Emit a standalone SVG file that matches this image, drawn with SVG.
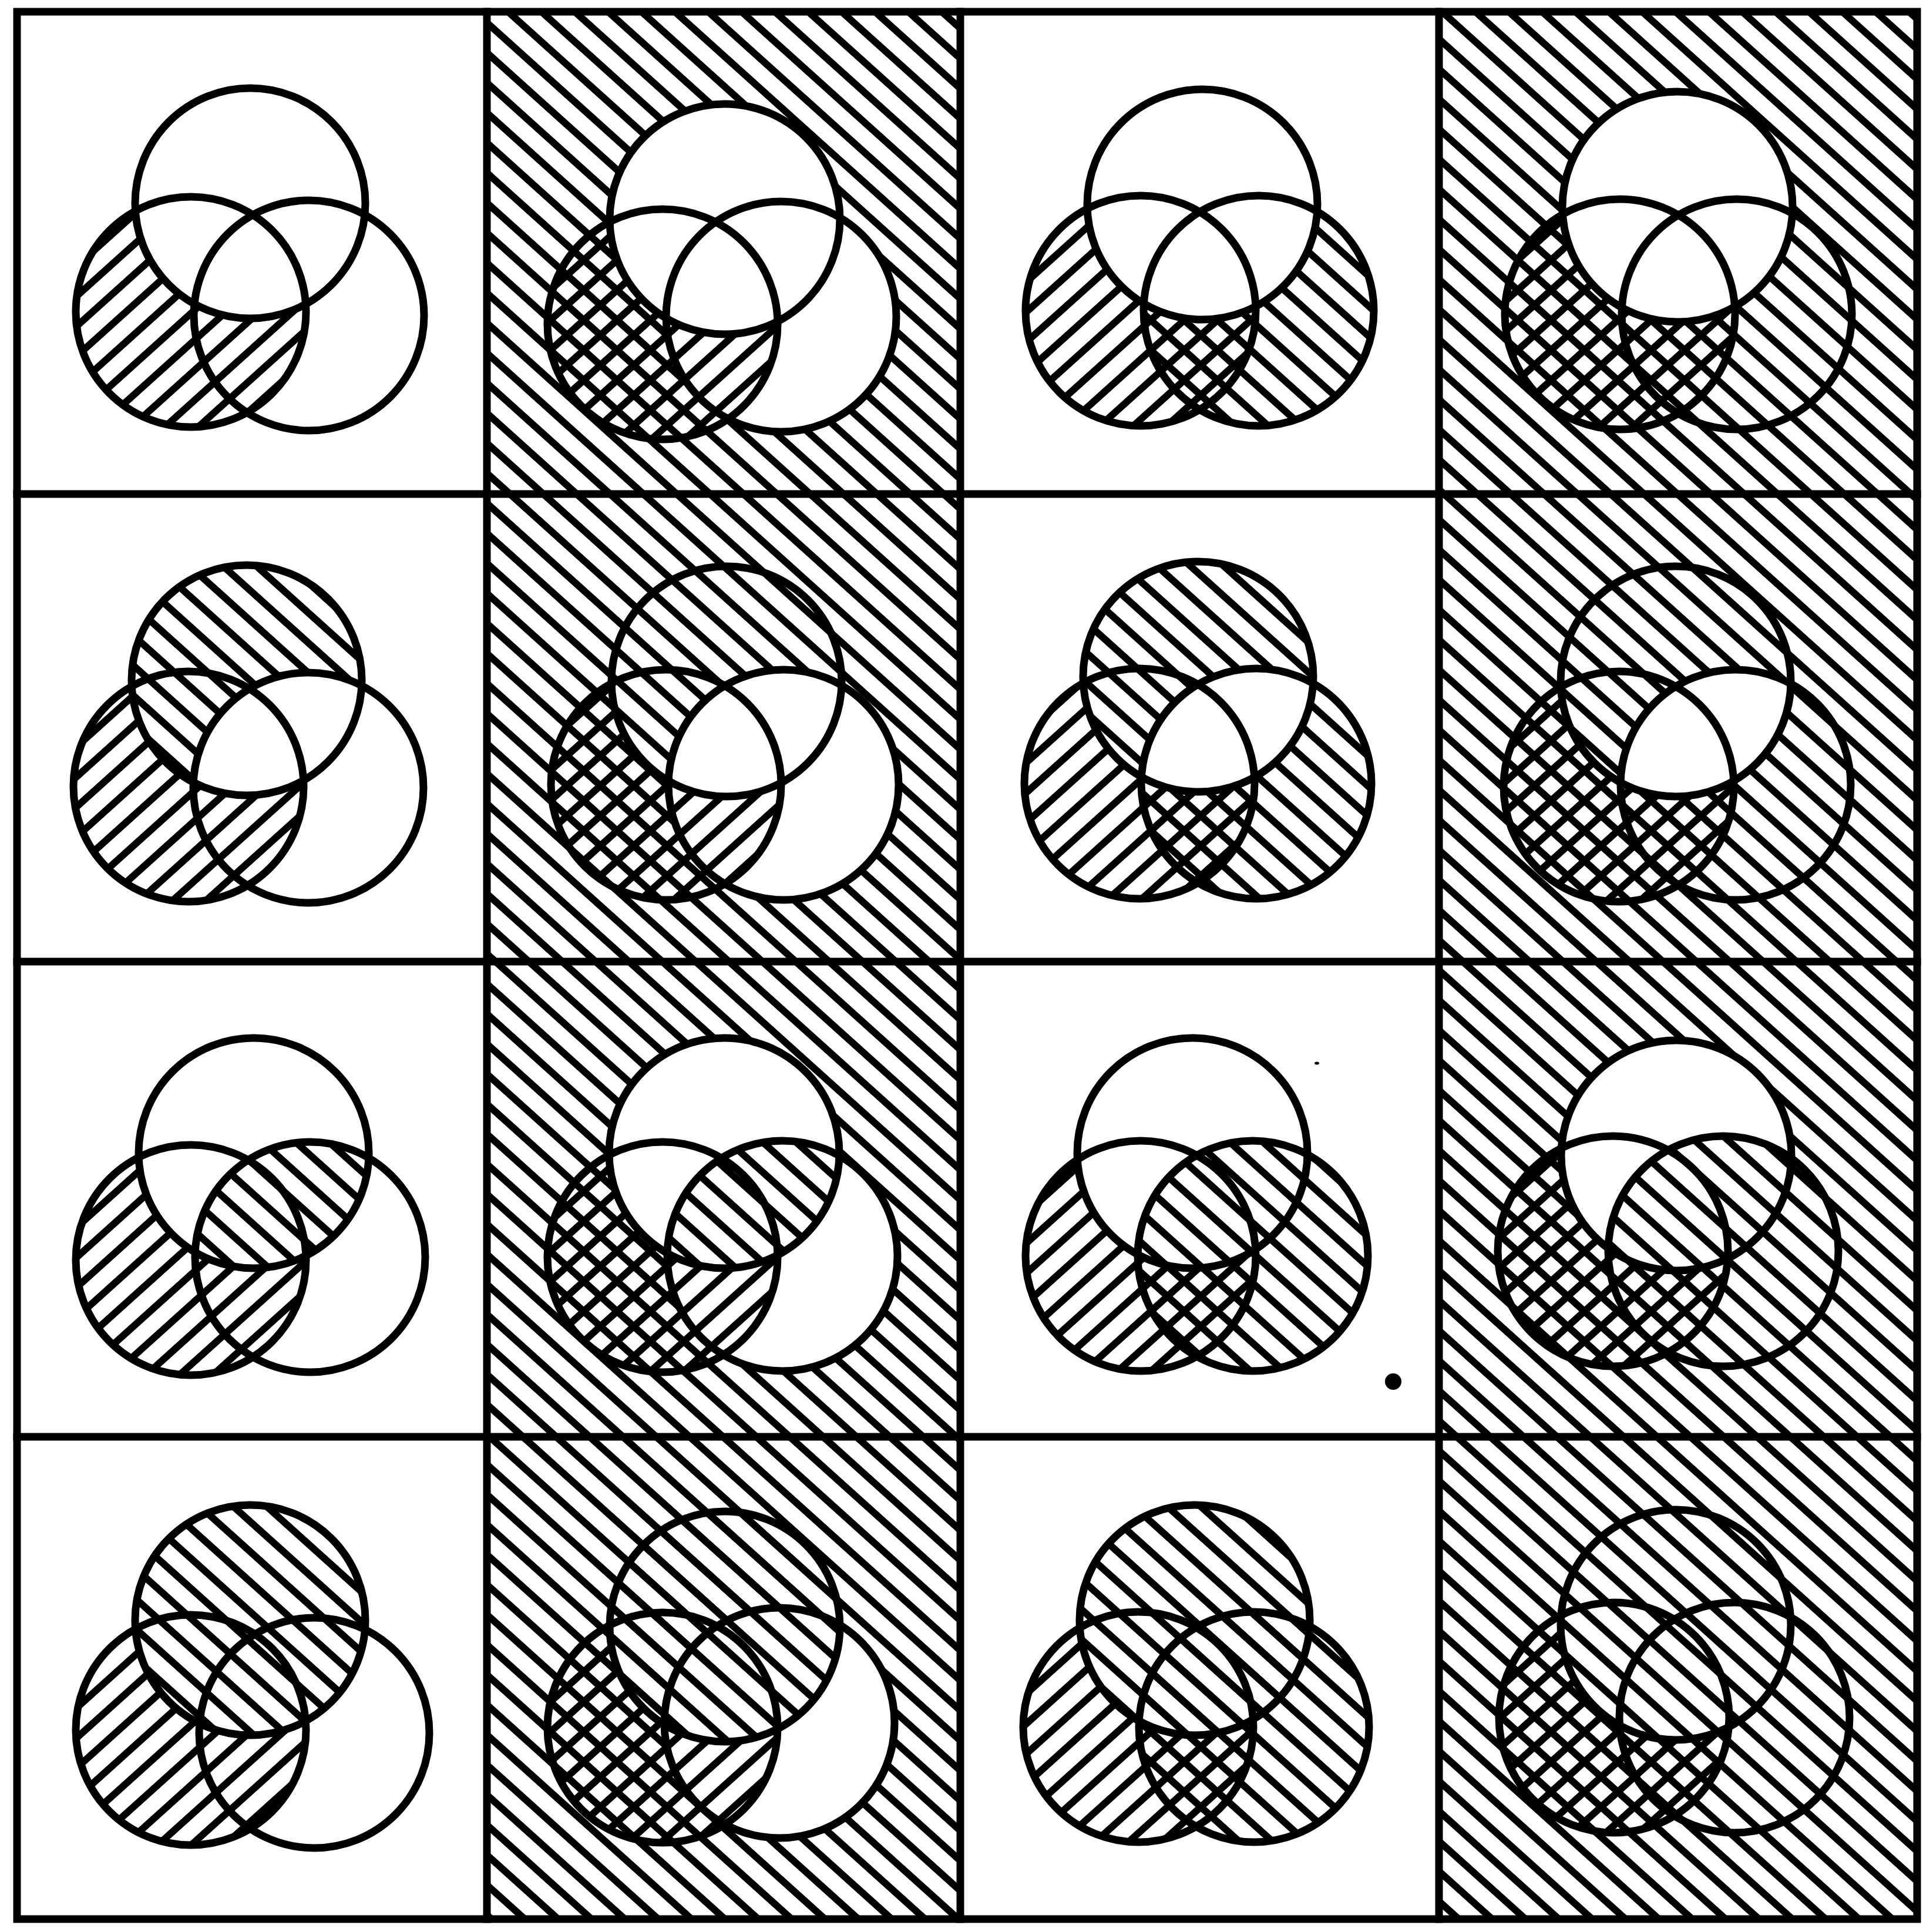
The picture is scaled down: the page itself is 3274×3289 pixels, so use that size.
<svg xmlns="http://www.w3.org/2000/svg" width="3274" height="3289" viewBox="0 0 3274 3289">
<style>
.o{fill:none;stroke:#000;stroke-width:13}
.h{fill:url(#bs)}
.f{fill:url(#fs)}
.w{fill:#fff}
.g{fill:none;stroke:#000;stroke-width:13;stroke-linecap:square}
</style>
<defs>
<pattern id="bs" patternUnits="userSpaceOnUse" width="38" height="38" patternTransform="rotate(42)"><rect width="38" height="12" fill="#000"/></pattern>
<pattern id="fs" patternUnits="userSpaceOnUse" width="38" height="38" patternTransform="rotate(-42)"><rect width="38" height="12" fill="#000"/></pattern>
<clipPath id="b00"><circle cx="325" cy="531" r="196"/></clipPath>
<clipPath id="b01"><circle cx="1128" cy="552" r="196"/></clipPath>
<clipPath id="b02"><circle cx="1942" cy="529" r="196"/></clipPath>
<clipPath id="b03"><circle cx="2758" cy="535" r="196"/></clipPath>
<clipPath id="b10"><circle cx="321" cy="1339" r="196"/></clipPath>
<clipPath id="b11"><circle cx="1134" cy="1336" r="196"/></clipPath>
<clipPath id="b12"><circle cx="1940" cy="1334" r="196"/></clipPath>
<clipPath id="b13"><circle cx="2756" cy="1339" r="196"/></clipPath>
<clipPath id="b20"><circle cx="325" cy="2145" r="196"/></clipPath>
<clipPath id="b21"><circle cx="1128" cy="2140" r="196"/></clipPath>
<clipPath id="b22"><circle cx="1942" cy="2138" r="196"/></clipPath>
<clipPath id="b23"><circle cx="2746" cy="2130" r="196"/></clipPath>
<clipPath id="b30"><circle cx="325" cy="2945" r="196"/></clipPath>
<clipPath id="b31"><circle cx="1128" cy="2941" r="196"/></clipPath>
<clipPath id="b32"><circle cx="1938" cy="2940" r="196"/></clipPath>
<clipPath id="b33"><circle cx="2748" cy="2924" r="196"/></clipPath>
<clipPath id="a10"><circle cx="420" cy="1158" r="196"/></clipPath>
<clipPath id="a11"><circle cx="1237" cy="1160" r="196"/></clipPath>
<clipPath id="a12"><circle cx="2040" cy="1152" r="196"/></clipPath>
<clipPath id="a13"><circle cx="2853" cy="1160" r="196"/></clipPath>
<clipPath id="a20"><circle cx="432" cy="1963" r="196"/></clipPath>
<clipPath id="a21"><circle cx="1233" cy="1963" r="196"/></clipPath>
<clipPath id="a22"><circle cx="2030" cy="1963" r="196"/></clipPath>
<clipPath id="a23"><circle cx="2854" cy="1967" r="196"/></clipPath>
</defs>
<rect width="3274" height="3289" fill="#fff"/>
<g id="cells">
<g id="cell-0-0">
<g clip-path="url(#b00)"><path class="f" fill-rule="evenodd" d="M129 531a196 196 0 1 0 392 0a196 196 0 1 0-392 0ZM230 346a196 196 0 1 0 392 0a196 196 0 1 0-392 0Z"/></g>
<circle class="o" cx="426" cy="346" r="196"/><circle class="o" cx="325" cy="531" r="196"/><circle class="o" cx="526" cy="537" r="196"/>
</g>
<g id="cell-0-1">
<rect class="h" x="829" y="20" width="806" height="821"/>
<circle class="w" cx="1330" cy="539" r="196"/>
<circle class="w" cx="1234" cy="373" r="196"/>
<g clip-path="url(#b01)"><path class="f" fill-rule="evenodd" d="M932 552a196 196 0 1 0 392 0a196 196 0 1 0-392 0ZM1038 373a196 196 0 1 0 392 0a196 196 0 1 0-392 0Z"/></g>
<circle class="o" cx="1234" cy="373" r="196"/><circle class="o" cx="1128" cy="552" r="196"/><circle class="o" cx="1330" cy="539" r="196"/>
</g>
<g id="cell-0-2">
<circle class="h" cx="2143" cy="529" r="196"/>
<circle class="w" cx="2047" cy="348" r="196"/>
<g clip-path="url(#b02)"><path class="f" fill-rule="evenodd" d="M1746 529a196 196 0 1 0 392 0a196 196 0 1 0-392 0ZM1851 348a196 196 0 1 0 392 0a196 196 0 1 0-392 0Z"/></g>
<circle class="o" cx="2047" cy="348" r="196"/><circle class="o" cx="1942" cy="529" r="196"/><circle class="o" cx="2143" cy="529" r="196"/>
</g>
<g id="cell-0-3">
<rect class="h" x="2450" y="20" width="814" height="821"/>
<circle class="w" cx="2856" cy="352" r="196"/>
<g clip-path="url(#b03)"><path class="f" fill-rule="evenodd" d="M2562 535a196 196 0 1 0 392 0a196 196 0 1 0-392 0ZM2660 352a196 196 0 1 0 392 0a196 196 0 1 0-392 0Z"/></g>
<circle class="o" cx="2856" cy="352" r="196"/><circle class="o" cx="2758" cy="535" r="196"/><circle class="o" cx="2957" cy="535" r="196"/>
</g>
<g id="cell-1-0">
<circle class="h" cx="420" cy="1158" r="196"/>
<circle class="w" cx="525" cy="1341" r="196" clip-path="url(#a10)"/>
<g clip-path="url(#b10)"><path class="f" fill-rule="evenodd" d="M125 1339a196 196 0 1 0 392 0a196 196 0 1 0-392 0ZM224 1158a196 196 0 1 0 392 0a196 196 0 1 0-392 0Z"/></g>
<circle class="o" cx="420" cy="1158" r="196"/><circle class="o" cx="321" cy="1339" r="196"/><circle class="o" cx="525" cy="1341" r="196"/>
</g>
<g id="cell-1-1">
<rect class="h" x="829" y="841" width="806" height="796"/>
<circle class="w" cx="1334" cy="1336" r="196"/>
<circle class="w" cx="1237" cy="1160" r="196"/>
<circle class="h" cx="1237" cy="1160" r="196"/>
<circle class="w" cx="1334" cy="1336" r="196" clip-path="url(#a11)"/>
<g clip-path="url(#b11)"><path class="f" fill-rule="evenodd" d="M938 1336a196 196 0 1 0 392 0a196 196 0 1 0-392 0ZM1041 1160a196 196 0 1 0 392 0a196 196 0 1 0-392 0Z"/></g>
<circle class="o" cx="1237" cy="1160" r="196"/><circle class="o" cx="1134" cy="1336" r="196"/><circle class="o" cx="1334" cy="1336" r="196"/>
</g>
<g id="cell-1-2">
<circle class="h" cx="2139" cy="1334" r="196"/>
<circle class="w" cx="2040" cy="1152" r="196"/>
<circle class="h" cx="2040" cy="1152" r="196"/>
<circle class="w" cx="2139" cy="1334" r="196" clip-path="url(#a12)"/>
<g clip-path="url(#b12)"><path class="f" fill-rule="evenodd" d="M1744 1334a196 196 0 1 0 392 0a196 196 0 1 0-392 0ZM1844 1152a196 196 0 1 0 392 0a196 196 0 1 0-392 0Z"/></g>
<circle class="o" cx="2040" cy="1152" r="196"/><circle class="o" cx="1940" cy="1334" r="196"/><circle class="o" cx="2139" cy="1334" r="196"/>
</g>
<g id="cell-1-3">
<rect class="h" x="2450" y="841" width="814" height="796"/>
<circle class="w" cx="2955" cy="1336" r="196" clip-path="url(#a13)"/>
<g clip-path="url(#b13)"><path class="f" fill-rule="evenodd" d="M2560 1339a196 196 0 1 0 392 0a196 196 0 1 0-392 0ZM2657 1160a196 196 0 1 0 392 0a196 196 0 1 0-392 0Z"/></g>
<circle class="o" cx="2853" cy="1160" r="196"/><circle class="o" cx="2756" cy="1339" r="196"/><circle class="o" cx="2955" cy="1336" r="196"/>
</g>
<g id="cell-2-0">
<circle class="h" cx="528" cy="2140" r="196" clip-path="url(#a20)"/>
<g clip-path="url(#b20)"><path class="f" fill-rule="evenodd" d="M129 2145a196 196 0 1 0 392 0a196 196 0 1 0-392 0ZM236 1963a196 196 0 1 0 392 0a196 196 0 1 0-392 0Z"/></g>
<circle class="o" cx="432" cy="1963" r="196"/><circle class="o" cx="325" cy="2145" r="196"/><circle class="o" cx="528" cy="2140" r="196"/>
</g>
<g id="cell-2-1">
<rect class="h" x="829" y="1637" width="806" height="809"/>
<circle class="w" cx="1332" cy="2138" r="196"/>
<circle class="w" cx="1233" cy="1963" r="196"/>
<circle class="h" cx="1332" cy="2138" r="196" clip-path="url(#a21)"/>
<g clip-path="url(#b21)"><path class="f" fill-rule="evenodd" d="M932 2140a196 196 0 1 0 392 0a196 196 0 1 0-392 0ZM1037 1963a196 196 0 1 0 392 0a196 196 0 1 0-392 0Z"/></g>
<circle class="o" cx="1233" cy="1963" r="196"/><circle class="o" cx="1128" cy="2140" r="196"/><circle class="o" cx="1332" cy="2138" r="196"/>
</g>
<g id="cell-2-2">
<circle class="h" cx="2133" cy="2138" r="196"/>
<g clip-path="url(#b22)"><path class="f" fill-rule="evenodd" d="M1746 2138a196 196 0 1 0 392 0a196 196 0 1 0-392 0ZM1834 1963a196 196 0 1 0 392 0a196 196 0 1 0-392 0Z"/></g>
<circle class="o" cx="2030" cy="1963" r="196"/><circle class="o" cx="1942" cy="2138" r="196"/><circle class="o" cx="2133" cy="2138" r="196"/>
</g>
<g id="cell-2-3">
<rect class="h" x="2450" y="1637" width="814" height="809"/>
<circle class="w" cx="2854" cy="1967" r="196"/>
<circle class="h" cx="2934" cy="2130" r="196" clip-path="url(#a23)"/>
<g clip-path="url(#b23)"><path class="f" fill-rule="evenodd" d="M2550 2130a196 196 0 1 0 392 0a196 196 0 1 0-392 0ZM2658 1967a196 196 0 1 0 392 0a196 196 0 1 0-392 0Z"/></g>
<circle class="o" cx="2854" cy="1967" r="196"/><circle class="o" cx="2746" cy="2130" r="196"/><circle class="o" cx="2934" cy="2130" r="196"/>
</g>
<g id="cell-3-0">
<circle class="h" cx="426" cy="2758" r="196"/>
<g clip-path="url(#b30)"><path class="f" fill-rule="evenodd" d="M129 2945a196 196 0 1 0 392 0a196 196 0 1 0-392 0ZM230 2758a196 196 0 1 0 392 0a196 196 0 1 0-392 0Z"/></g>
<circle class="o" cx="426" cy="2758" r="196"/><circle class="o" cx="325" cy="2945" r="196"/><circle class="o" cx="535" cy="2950" r="196"/>
</g>
<g id="cell-3-1">
<rect class="h" x="829" y="2446" width="806" height="821"/>
<circle class="w" cx="1327" cy="2933" r="196"/>
<circle class="h" cx="1234" cy="2769" r="196"/>
<g clip-path="url(#b31)"><path class="f" fill-rule="evenodd" d="M932 2941a196 196 0 1 0 392 0a196 196 0 1 0-392 0ZM1038 2769a196 196 0 1 0 392 0a196 196 0 1 0-392 0Z"/></g>
<circle class="o" cx="1234" cy="2769" r="196"/><circle class="o" cx="1128" cy="2941" r="196"/><circle class="o" cx="1327" cy="2933" r="196"/>
</g>
<g id="cell-3-2">
<circle class="h" cx="2135" cy="2940" r="196"/>
<circle class="h" cx="2034" cy="2758" r="196"/>
<g clip-path="url(#b32)"><path class="f" fill-rule="evenodd" d="M1742 2940a196 196 0 1 0 392 0a196 196 0 1 0-392 0ZM1838 2758a196 196 0 1 0 392 0a196 196 0 1 0-392 0Z"/></g>
<circle class="o" cx="2034" cy="2758" r="196"/><circle class="o" cx="1938" cy="2940" r="196"/><circle class="o" cx="2135" cy="2940" r="196"/>
</g>
<g id="cell-3-3">
<rect class="h" x="2450" y="2446" width="814" height="821"/>
<g clip-path="url(#b33)"><path class="f" fill-rule="evenodd" d="M2552 2924a196 196 0 1 0 392 0a196 196 0 1 0-392 0ZM2657 2766a196 196 0 1 0 392 0a196 196 0 1 0-392 0Z"/></g>
<circle class="o" cx="2853" cy="2766" r="196"/><circle class="o" cx="2748" cy="2924" r="196"/><circle class="o" cx="2953" cy="2924" r="196"/>
</g>
</g>
<g id="grid">
<rect class="g" x="29" y="20" width="3235" height="3247"/>
<path class="g" d="M829 20V3267M1635 20V3267M2450 20V3267M29 841H3264M29 1637H3264M29 2446H3264"/>
</g>
<g id="marks">
<circle cx="2372" cy="2352" r="14" fill="#000"/>
<ellipse cx="2242" cy="1810" rx="4" ry="2.5" fill="#000"/>
</g>
</svg>
